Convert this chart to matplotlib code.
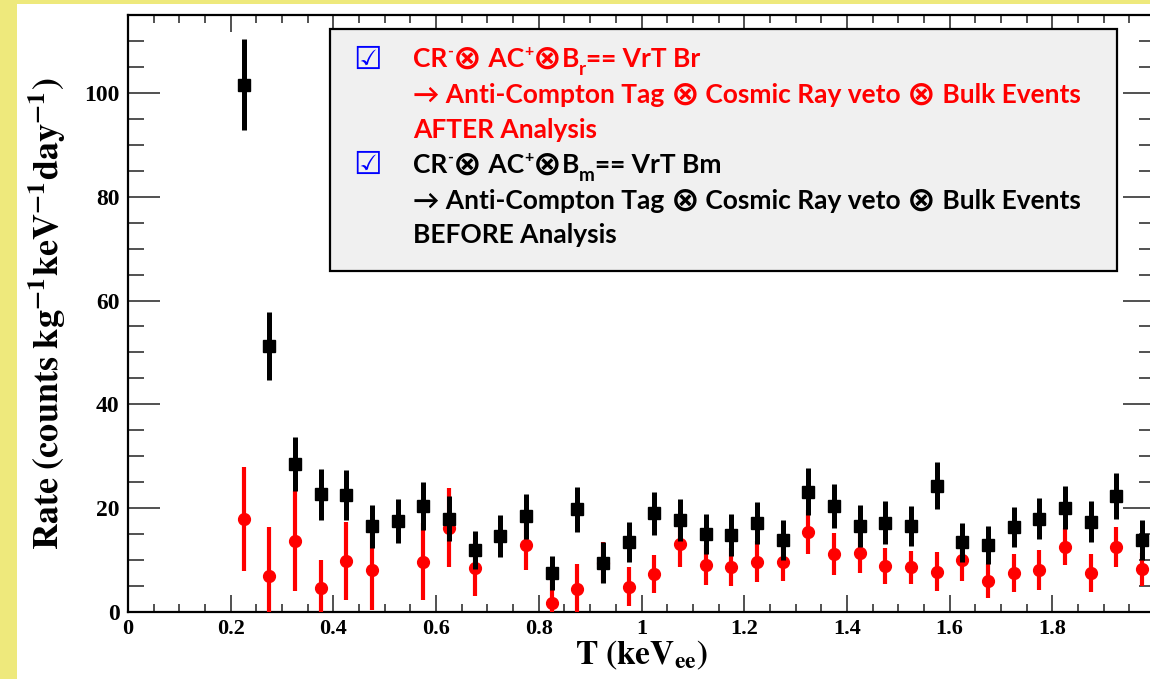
import matplotlib
matplotlib.use("Agg")
import matplotlib.pyplot as plt
import numpy as np
from matplotlib.patches import Rectangle
from matplotlib.ticker import MultipleLocator, FuncFormatter

# energy bin centres (keV_ee)
T = [0.225, 0.275, 0.325, 0.375, 0.425, 0.475, 0.525, 0.575, 0.625, 0.675,
     0.725, 0.775, 0.825, 0.875, 0.925, 0.975, 1.025, 1.075, 1.125, 1.175,
     1.225, 1.275, 1.325, 1.375, 1.425, 1.475, 1.525, 1.575, 1.625, 1.675,
     1.725, 1.775, 1.825, 1.875, 1.925, 1.975]

# VrT Bm : before analysis (black squares)
rate_bm = [101.6, 51.2, 28.5, 22.7, 22.5, 16.5, 17.5, 20.4, 18.0, 11.9,
           14.6, 18.4, 7.5, 19.8, 9.5, 13.5, 19.0, 17.7, 15.0, 14.8,
           17.1, 13.9, 23.2, 20.4, 16.6, 17.2, 16.6, 24.3, 13.4, 12.9,
           16.4, 18.0, 20.1, 17.4, 22.3, 13.9]
err_bm = [8.8, 6.5, 5.2, 4.9, 4.8, 4.1, 4.3, 4.6, 4.4, 3.7,
          4.1, 4.3, 3.3, 4.3, 3.9, 3.9, 4.2, 4.0, 3.8, 4.0,
          4.0, 3.8, 4.5, 4.2, 4.0, 4.1, 3.9, 4.5, 3.8, 3.6,
          3.9, 4.0, 4.2, 4.0, 4.4, 3.8]

# VrT Br : after analysis (red circles), empty bins left out
rate_br = [17.9, 6.9, 13.7, 4.6, 9.9, 8.0, np.nan, 9.7, 16.2, 8.5,
           np.nan, 13.0, 1.8, 4.4, 9.5, 4.9, 7.3, 13.1, 9.1, 8.7,
           9.7, 9.6, 15.4, 11.2, 11.4, 8.9, 8.6, 7.8, 10.0, 6.0,
           7.5, 8.1, 12.6, 7.5, 12.5, 8.2]
err_br = [10.0, 9.5, 9.6, 5.5, 7.5, 7.6, np.nan, 7.4, 7.6, 5.4,
          np.nan, 4.9, 5.0, 4.8, 3.9, 3.8, 3.7, 4.5, 3.9, 3.7,
          4.0, 3.6, 4.2, 4.1, 3.8, 3.5, 3.2, 3.7, 4.0, 3.3,
          3.7, 3.8, 3.6, 3.7, 3.8, 3.2]

W, H = 1150, 679
plt.rcParams['mathtext.fontset'] = 'stix'
SERIF = ['Liberation Serif', 'DejaVu Serif']
SANS = ['Lato', 'DejaVu Sans']

fig = plt.figure(figsize=(W / 100, H / 100), dpi=100, facecolor='#eee97c')
fig.add_artist(Rectangle((17 / W, 0), 1, 1 - 4 / H, transform=fig.transFigure,
                         fc='white', ec='none', zorder=-5))

ax = fig.add_axes([128 / W, (H - 612) / H, 1027 / W, 597 / H])
ax.set_xlim(0, 2)
ax.set_ylim(0, 115)

ax.errorbar(T, rate_br, yerr=err_br, fmt='o', color='red', ms=8.5,
            elinewidth=3.0, capsize=0, zorder=3, clip_on=True)
ax.errorbar(T, rate_bm, yerr=err_bm, fmt='s', color='black', ms=8.5,
            elinewidth=3.6, capsize=0, zorder=4, clip_on=True)

for s in ax.spines.values():
    s.set_linewidth(1.6)

ax.xaxis.set_major_locator(MultipleLocator(0.2))
ax.xaxis.set_minor_locator(MultipleLocator(0.05))
ax.yaxis.set_major_locator(MultipleLocator(20))
ax.yaxis.set_minor_locator(MultipleLocator(5))
ax.xaxis.set_major_formatter(FuncFormatter(lambda v, p: '%g' % round(v, 2)))
ax.tick_params(which='both', direction='in', top=True, right=True,
               color='#333333', width=1.2)
ax.tick_params(axis='x', which='major', length=12, pad=5)
ax.tick_params(axis='x', which='minor', length=6)
ax.tick_params(axis='y', which='major', length=23, pad=6)
ax.tick_params(axis='y', which='minor', length=11.5)
for lab in ax.get_xticklabels():
    lab.set_fontfamily(SERIF)
    lab.set_fontweight('bold')
    lab.set_fontsize(16)
for lab in ax.get_yticklabels():
    lab.set_fontfamily(SERIF)
    lab.set_fontweight('bold')
    lab.set_fontsize(17)

ax.set_xlabel(r'$\mathbf{T\ (keV_{ee})}$', fontsize=24)
ax.xaxis.set_label_coords(0.5, -0.088)
ax.xaxis.label.set_va('baseline')
ax.set_ylabel(r'$\mathbf{Rate\ (counts\ kg^{-1}keV^{-1}day^{-1})}$',
              fontsize=26, va='center')
ax.yaxis.set_label_coords((47 - 128) / 1027, 0.5)

# legend box
fig.add_artist(Rectangle((330 / W, 1 - 271 / H), 787 / W, 242 / H,
                         transform=fig.transFigure, fc='#f0f0f0', ec='black',
                         lw=1.6, zorder=5))

renderer = fig.canvas.get_renderer()


def rich_line(x, y, parts, color, size=19.0):
    # draw a line of text piece by piece: raised, lowered or enlarged pieces
    px = size * 100 / 72
    for s, kind in parts:
        fs, yy, fam = size, y, SANS
        if kind == 'sup':
            fs, yy = size * 0.6, y - px * 0.42
        elif kind == 'sub':
            fs, yy = size * 0.72, y + px * 0.3
        elif kind == 'big':
            fs, yy, fam = size * 1.3, y + px * 0.08, 'DejaVu Sans'
        t = fig.text(x / W, 1 - yy / H, s, fontsize=fs, color=color,
                     fontweight='bold', family=fam, ha='left', va='baseline',
                     zorder=6)
        x += t.get_window_extent(renderer).width


def check(y):
    fig.text(353 / W, 1 - y / H, '\u2611', fontsize=23, color='blue',
             family='DejaVu Sans', ha='left', va='baseline', zorder=6)


OT = '\u2297'
check(69)
rich_line(413, 67, [('CR', 0), ('-', 'sup'), (OT, 'big'), (' AC', 0),
                    ('+', 'sup'), (OT, 'big'), ('B', 0), ('r', 'sub'),
                    ('== VrT Br', 0)], 'red')
rich_line(413, 103, [('\u2192 Anti-Compton Tag ', 0), (OT, 'big'),
                     (' Cosmic Ray veto ', 0), (OT, 'big'),
                     (' Bulk Events', 0)], 'red')
rich_line(413, 138, [('AFTER Analysis', 0)], 'red')
check(174)
rich_line(413, 173, [('CR', 0), ('-', 'sup'), (OT, 'big'), (' AC', 0),
                     ('+', 'sup'), (OT, 'big'), ('B', 0), ('m', 'sub'),
                     ('== VrT Bm', 0)], 'black')
rich_line(413, 209, [('\u2192 Anti-Compton Tag ', 0), (OT, 'big'),
                     (' Cosmic Ray veto ', 0), (OT, 'big'),
                     (' Bulk Events', 0)], 'black')
rich_line(413, 243, [('BEFORE Analysis', 0)], 'black')

fig.savefig('out.png', dpi=100, facecolor=fig.get_facecolor())
